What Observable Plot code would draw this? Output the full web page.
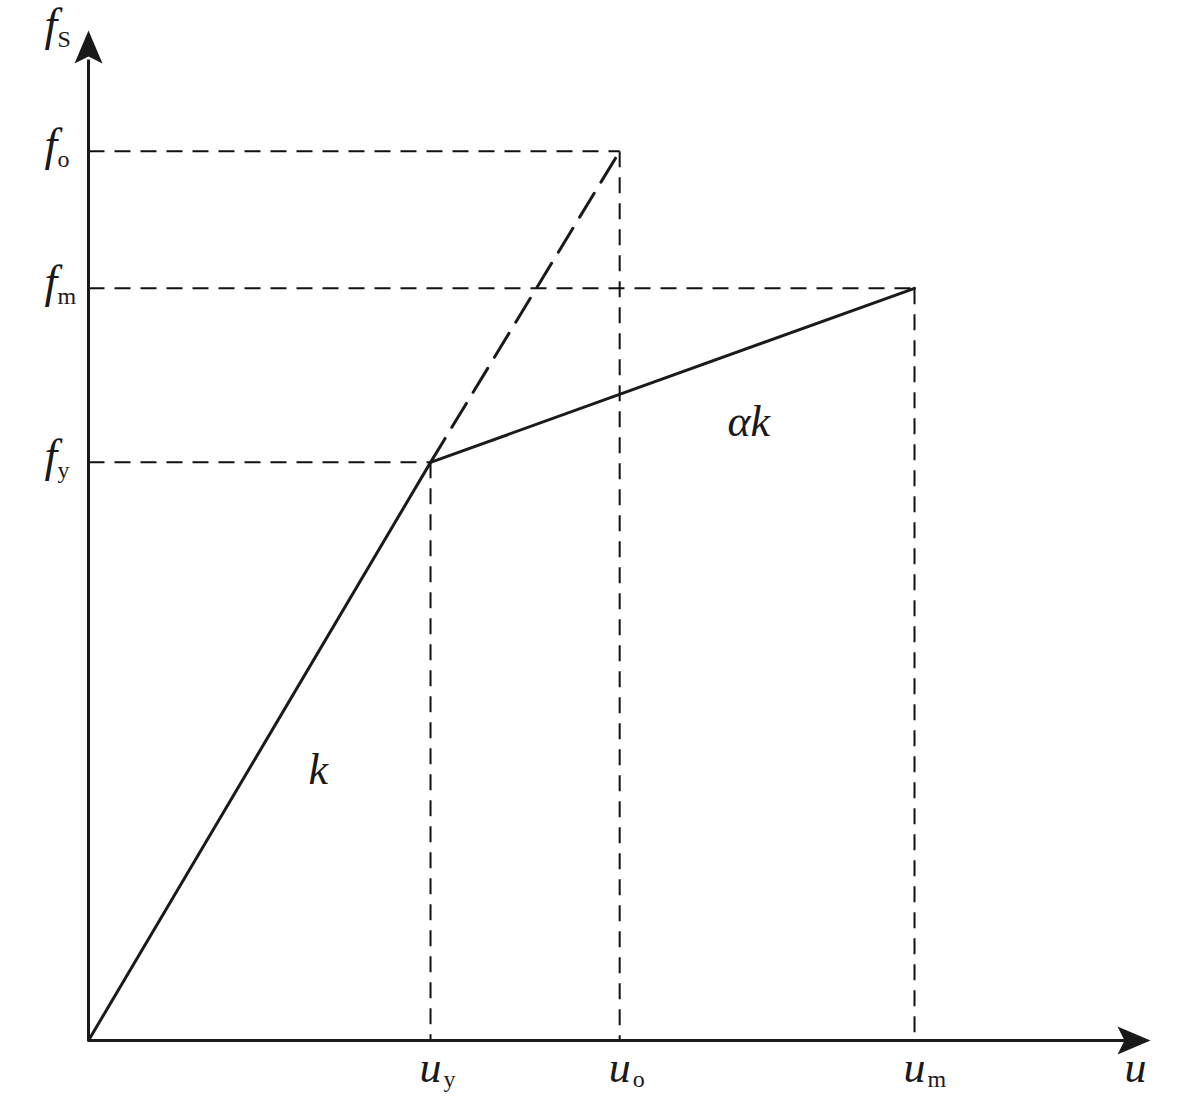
<!DOCTYPE html>
<html>
<head>
<meta charset="utf-8">
<script src="https://cdn.jsdelivr.net/npm/d3@7"></script>
<script src="https://cdn.jsdelivr.net/npm/@observablehq/plot@0.6"></script>
<style>
  html, body { margin: 0; padding: 0; background: #fff; }
</style>
</head>
<body>
<div id="chart"></div>
<script>
// ---- data (normalised: u_y = 1, f_y = 1) ----
const pointNames   = ["y", "o", "m"];          // subscripts of the key points
const displacement = [1.000, 1.553, 2.415];    // u_y, u_o, u_m
const force        = [1.000, 1.538, 1.301];    // f_y, f_o, f_m
const axisMaxU = 3.105;                          // end of u axis (arrow tip)
const axisMaxF = 1.747;                          // end of f axis (arrow tip)
const slopeText = ["k", "αk"];
const slopeU    = [0.643, 1.868];
const slopeF    = [0.443, 1.045];

const pts = pointNames.map((n, i) => ({name: n, u: displacement[i], f: force[i]}));
const byName = Object.fromEntries(pts.map(d => [d.name, d]));
const origin = {u: 0, f: 0};
const solidPath = [origin, byName.y, byName.m];
const dashedPath = [byName.y, byName.o];
const slopes = slopeText.map((t, i) => ({t, u: slopeU[i], f: slopeF[i]}));

const fLabels = [...pts.map(d => ({f: d.f, sub: d.name})), {f: axisMaxF, sub: "S"}];
const uLabels = pts.map(d => ({u: d.u, sub: d.name}));

const serif = "Liberation Serif";
const arrowSym = {
  draw(ctx) {
    ctx.moveTo(0, 0);
    ctx.lineTo(-14, 33);
    ctx.lineTo(0, 26);
    ctx.lineTo(14, 33);
    ctx.closePath();
  }
};

const chart = Plot.plot({
  width: 1181,
  height: 1102,
  x: {domain: [0, axisMaxU], range: [88, 1150], axis: null},
  y: {domain: [0, axisMaxF], range: [1040, 30], axis: null},
  marks: [
    // guide lines
    Plot.link(pts, {x1: 0, y1: "f", x2: "u", y2: "f", stroke: "#111", strokeWidth: 2, strokeDasharray: "16,10"}),
    Plot.link(pts, {x1: "u", y1: "f", x2: "u", y2: 0, stroke: "#111", strokeWidth: 2, strokeDasharray: "16,10"}),
    // elastic extension (dashed)
    Plot.line(dashedPath, {x: "u", y: "f", stroke: "#1a1a1a", strokeWidth: 3, strokeDasharray: "28,13"}),
    // bilinear curve
    Plot.line(solidPath, {x: "u", y: "f", stroke: "#1a1a1a", strokeWidth: 3, strokeLinejoin: "miter"}),
    // axes
    Plot.link([0], {x1: 0, y1: 0, x2: axisMaxU - 0.05, y2: 0, stroke: "#1a1a1a", strokeWidth: 3}),
    Plot.link([0], {x1: 0, y1: 0, x2: 0, y2: axisMaxF - 0.05, stroke: "#1a1a1a", strokeWidth: 3}),
    Plot.dot([{u: axisMaxU, f: 0, r: 90}, {u: 0, f: axisMaxF, r: 0}],
      {x: "u", y: "f", rotate: "r", symbol: arrowSym, fill: "#1a1a1a", stroke: null}),
    // f labels
    Plot.text(fLabels, {x: () => 0, y: "f", text: () => "f", textAnchor: "start", lineAnchor: "bottom",
      dx: -44, dy: 9, fontFamily: serif, fontStyle: "italic", fontSize: 46, fill: "#1a1a1a"}),
    Plot.text(fLabels, {x: () => 0, y: "f", text: "sub", textAnchor: "start", lineAnchor: "bottom",
      dx: -31, dy: 16, fontFamily: serif, fontSize: 24, fill: "#1a1a1a"}),
    // u labels
    Plot.text(uLabels, {x: "u", y: () => 0, text: () => "u", textAnchor: "start", lineAnchor: "bottom",
      dx: -11, dy: 41, fontFamily: serif, fontStyle: "italic", fontSize: 44, fill: "#1a1a1a"}),
    Plot.text(uLabels, {x: "u", y: () => 0, text: "sub", textAnchor: "start", lineAnchor: "bottom",
      dx: 13, dy: 46, fontFamily: serif, fontSize: 24, fill: "#1a1a1a"}),
    // axis title u
    Plot.text([axisMaxU], {x: d => d, y: () => 0, text: () => "u", textAnchor: "start", lineAnchor: "bottom",
      dx: -26, dy: 41, fontFamily: serif, fontStyle: "italic", fontSize: 44, fill: "#1a1a1a"}),
    // slope labels
    Plot.text(slopes, {x: "u", y: "f", text: "t", textAnchor: "start", lineAnchor: "bottom",
      fontFamily: serif, fontStyle: "italic", fontSize: 44, fill: "#1a1a1a"})
  ]
});
document.getElementById("chart").appendChild(chart);
</script>
</body>
</html>
